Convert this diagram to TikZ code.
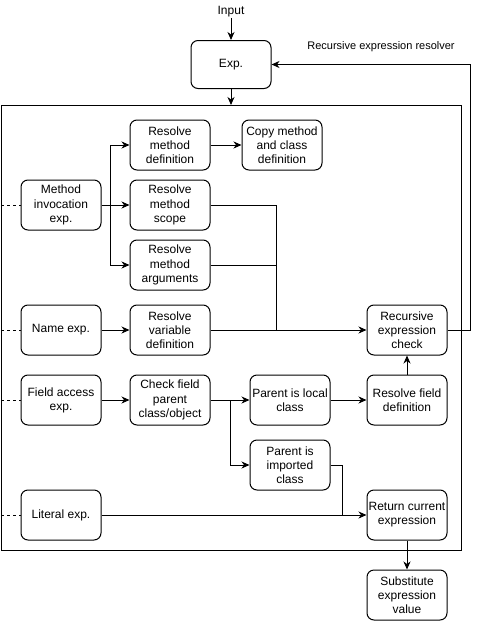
\documentclass[tikz,border=0pt]{standalone}
\usepackage{fontspec}
\setmainfont{Liberation Sans}
\usetikzlibrary{arrows.meta}
\begin{document}
\begin{tikzpicture}[x=1pt,y=-1pt,line width=1pt,
  box/.style={draw,rounded corners=7pt,minimum width=80pt,minimum height=50pt,inner sep=0pt,align=center,font=\fontsize{12}{14.2}\selectfont},
  arr/.style={-{Stealth[length=8pt,width=7pt,inset=2.5pt]}},
  lbl/.style={inner sep=0pt,font=\fontsize{12}{14}\selectfont},
  dsh/.style={dash pattern=on 3pt off 3pt}]
\useasboundingbox (0,0) rectangle (481,621);
% outer frame
\draw (1,105) rectangle (461,550);
% top
\node[lbl] (input) at (231,12) {Input};
\node[box,minimum height=48pt] (exp) at (231,64.5) {Exp.};
\node[inner sep=0pt,font=\fontsize{11}{13}\selectfont] (title) at (381,46.5) {Recursive expression resolver};
% left column
\node[box] (mi) at (61,205) {Method\\invocation\\exp.};
\node[box] (ne) at (61,330) {Name exp.};
\node[box] (fa) at (61,400) {Field access\\exp.};
\node[box] (le) at (61,515) {Literal exp.};
% second column
\node[box] (rmd) at (170,145) {Resolve\\method\\definition};
\node[box] (rms) at (170,205) {Resolve\\method\\scope};
\node[box] (rma) at (170,265) {Resolve\\method\\arguments};
\node[box] (rvd) at (170,330) {Resolve\\variable\\definition};
\node[box] (cf) at (170,400) {Check field\\parent\\class/object};
% third column
\node[box] (cm) at (282,145) {Copy method\\and class\\definition};
\node[box] (pl) at (290,400) {Parent is local\\class};
\node[box] (pi) at (290,465) {Parent is\\imported\\class};
% fourth column
\node[box] (rec) at (407,330) {Recursive\\expression\\check};
\node[box] (rfd) at (407,400) {Resolve field\\definition};
\node[box] (rce) at (407,515) {Return current\\expression};
\node[box] (sub) at (407,595) {Substitute\\expression\\value};
% coordinates
\coordinate (ftop) at (231,105);
\coordinate (d1) at (1,205);
\coordinate (d2) at (1,330);
\coordinate (d3) at (1,400);
\coordinate (d4) at (1,515);
\coordinate (b1) at (110,205);
\coordinate (j1) at (276,330);
\coordinate (lp) at (470,330);
\coordinate (b2) at (230,400);
\coordinate (j2) at (342,515);
% connectors
\draw[arr] (input.south) -- (exp.north);
\draw[arr] (exp.south) -- (ftop);
\draw[dsh] (d1) -- (mi.west);
\draw[dsh] (d2) -- (ne.west);
\draw[dsh] (d3) -- (fa.west);
\draw[dsh] (d4) -- (le.west);
\draw[arr] (mi.east) -- (rms.west);
\draw[arr] (b1) |- (rmd.west);
\draw[arr] (b1) |- (rma.west);
\draw[arr] (rmd.east) -- (cm.west);
\draw (rms.east) -| (j1);
\draw (rma.east) -| (j1);
\draw[arr] (ne.east) -- (rvd.west);
\draw[arr] (rvd.east) -- (rec.west);
\draw[arr] (rec.east) -- (lp) |- (exp.east);
\draw[arr] (fa.east) -- (cf.west);
\draw (cf.east) -- (b2);
\draw[arr] (b2) -- (pl.west);
\draw[arr] (b2) |- (pi.west);
\draw[arr] (pl.east) -- (rfd.west);
\draw[arr] (rfd.north) -- (rec.south);
\draw (pi.east) -| (j2);
\draw[arr] (le.east) -- (rce.west);
\draw[arr] (rce.south) -- (sub.north);
\end{tikzpicture}
\end{document}
